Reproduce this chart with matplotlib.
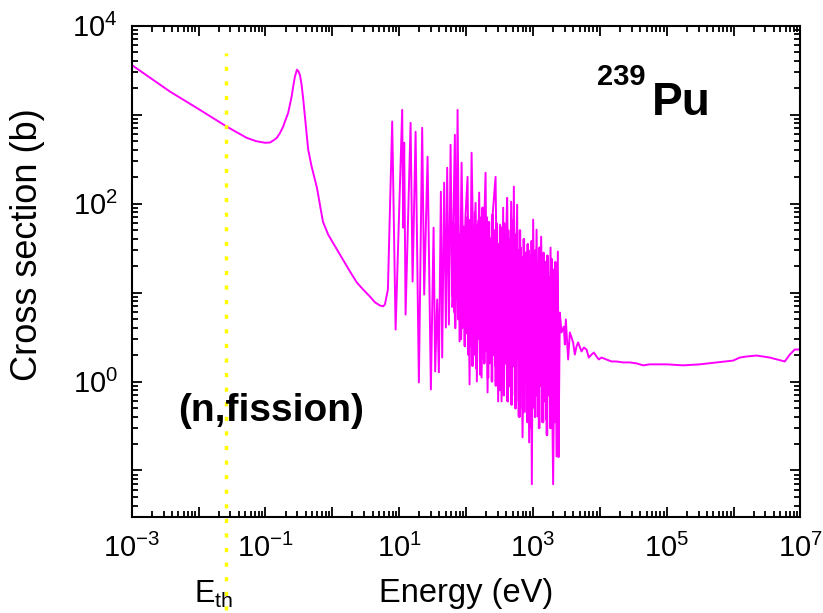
import numpy as np
import matplotlib.pyplot as plt
from matplotlib.ticker import FixedLocator, FuncFormatter, NullFormatter

plt.rcParams['font.family'] = ['Liberation Sans', 'DejaVu Sans']
plt.rcParams['mathtext.fontset'] = 'custom'
plt.rcParams['mathtext.rm'] = 'Liberation Sans'
plt.rcParams['mathtext.it'] = 'Liberation Sans'

# energia (eV) y seccion eficaz de fision (b) del Pu-239, leidas del grafico
# zona termica y primera resonancia
e_low = [1.0e-3, 3.74e-3, 9.37e-3, 0.0263, 0.0524, 0.0721, 0.0983, 0.1168, 0.1308, 0.147,
         0.1647, 0.1845, 0.1956, 0.219, 0.2324, 0.2464, 0.260, 0.2761, 0.296, 0.3093,
         0.328, 0.3476, 0.367, 0.3895, 0.436, 0.4905, 0.589, 0.724, 0.868, 1.02,
         1.44, 1.833, 2.33, 2.897, 3.65, 4.33, 5.15, 5.77, 6.11, 6.78]
s_low = [3620, 1816, 1192, 735, 549, 504, 483, 486, 512, 545,
         620, 735, 837, 1048, 1288, 1597, 2068, 2677, 3200, 3100,
         2797, 2160, 1500, 952, 403, 261, 150.8, 62.7, 44.8, 36.4,
         23.5, 17.3, 12.95, 10.8, 9.02, 7.78, 7.15, 7.02, 7.33, 10.8]

# resonancias resueltas (picos y valles)
e_res = [7.86, 8.84, 11.09, 11.48, 11.88, 12.46, 14.81, 15.86, 17.59, 19.70,
         22.07, 23.65, 26.58, 29.77, 32.68, 34.52, 36.98, 39.21, 42.02, 43.94,
         47.07, 49.90, 52.19, 55.34, 58.66, 61.97, 68.03, 71.12, 74.64, 79.95,
         85.66, 91.75, 98.3, 105.3, 112.8, 120.9, 129.5, 138.7, 145.0, 157.0,
         170.5, 182.6, 195.6, 209.6, 224.5, 234.8, 251.5, 276.1, 301.9, 323.3,
         339.3, 358.5, 367.3, 393.5, 411.5, 440.9, 472.2, 500.7, 518.2, 541.9,
         580.6, 609.3, 652.6, 699.1, 748.9, 802.4, 839.2, 877.4, 920.6, 962.9,
         1007, 1079, 1132, 1212, 1327, 1421, 1522, 1575, 1630, 1747,
         1833, 2004, 2147, 2253, 2356, 2413, 2524]
s_res = [837, 3.84, 1132, 53.6, 483, 5.66, 809, 13.3, 641, 0.977,
         711, 9.50, 336, 0.815, 53.6, 1.30, 8.35, 1.27, 136, 1.86,
         172, 4.05, 253, 4.37, 458, 9.50, 593, 8.35, 1132, 2.82,
         288, 11.4, 75.1, 200, 0.928, 373, 19.1, 102, 1.0, 133,
         1.11, 28.9, 222, 0.755, 41.4, 3.84, 81.1, 200, 0.598, 58.0,
         0.598, 89.9, 1.27, 32.8, 116, 0.881, 105, 3.84, 155, 2.48,
         97.2, 0.406, 32.0, 0.236, 24.7, 0.450, 8.35, 0.207, 26.7, 0.070,
         66.0, 1.06, 50.9, 0.755, 42.5, 0.598, 12.9, 0.375, 21.7, 0.755,
         32.0, 0.070, 21.7, 0.144, 28.9, 0.141, 5.96]

# resonancias densas (relleno del bosque), dos grupos
e_fill = [61, 63, 65, 67.5, 70, 72, 74.5, 77, 80, 82.5,
          85, 88, 91, 94, 97, 100, 104, 107, 111, 115,
          119, 123, 127, 131, 136, 140, 145, 150, 155, 160,
          166, 171, 177, 183, 190, 196, 203, 210, 217, 224,
          232, 240, 248, 257, 265, 275, 284, 294, 304, 314,
          325, 336, 348, 360, 372, 385, 398, 412, 426, 441,
          456, 472, 488, 505, 522, 540, 558, 578, 597, 618,
          639, 661, 684, 707, 732, 757, 783, 810, 838, 867,
          896, 927, 959, 992, 1026, 1061, 1098, 1136, 1175, 1215,
          1257, 1300, 1345, 1391, 1439, 1488, 1540, 1593, 1647, 1704,
          1763, 1823, 1886, 1951, 2018, 2087, 2159, 2233, 2310, 2390]
s_fill = [35, 9, 60, 6, 40, 12, 28, 5, 45, 8,
          30, 4, 55, 10, 38, 3.5, 70, 7, 45, 2.5,
          60, 6, 35, 2, 80, 5, 40, 3, 65, 4.5,
          50, 1.8, 90, 6, 45, 2.2, 70, 3.5, 55, 1.6,
          40, 5, 75, 2, 50, 1.5, 60, 3, 35, 1.2,
          55, 4, 45, 1.3, 60, 2.5, 30, 0.9, 50, 3,
          40, 1.1, 65, 2, 35, 0.7, 45, 2.5, 30, 0.6,
          50, 1.8, 25, 0.5, 40, 1.5, 28, 0.45, 35, 1.2,
          22, 0.35, 38, 1.5, 25, 0.5, 30, 0.9, 20, 0.4,
          32, 1.2, 18, 0.35, 28, 0.8, 22, 0.45, 26, 1.0,
          15, 0.3, 24, 0.7, 18, 0.4, 22, 0.9, 15, 0.5]

e_fill2 = [62, 66, 69, 73, 76, 79, 84, 87, 90, 93,
           96, 99, 102, 106, 109, 113, 117, 121, 125, 129,
           133, 138, 143, 147, 152, 158, 163, 169, 174, 180,
           187, 193, 200, 206, 213, 220, 228, 236, 244, 252,
           261, 270, 279, 289, 299, 309, 320, 330, 342, 354,
           366, 378, 391, 405, 419, 433, 448, 464, 480, 496,
           513, 531, 549, 568, 587, 607, 628, 650, 672, 695,
           719, 744, 770, 796, 824, 852, 881, 911, 943, 975,
           1009, 1043, 1079, 1117, 1155, 1195, 1236, 1278, 1322, 1368,
           1415, 1463, 1514, 1566, 1620, 1675, 1733, 1793, 1854, 1918,
           1984, 2052, 2123, 2196, 2271, 2350, 2430]
s_fill2 = [7, 25, 4, 50, 9, 30, 3, 42, 6, 20,
           2.5, 55, 5, 28, 2, 65, 4, 38, 1.5, 48,
           3, 30, 1.4, 58, 4, 25, 1.2, 70, 2.5, 35,
           1.6, 50, 3, 28, 1.1, 62, 2.2, 40, 1.0, 45,
           3.5, 25, 0.9, 55, 2, 32, 0.8, 48, 2.8, 22,
           0.7, 42, 1.6, 28, 0.6, 38, 2.2, 20, 0.55, 45,
           1.5, 24, 0.5, 35, 1.8, 18, 0.4, 32, 1.2, 20,
           0.45, 28, 1.0, 16, 0.35, 30, 0.8, 18, 0.3, 25,
           1.1, 14, 0.4, 22, 0.7, 16, 0.3, 24, 0.9, 13,
           0.35, 20, 0.6, 15, 0.25, 18, 0.7, 12, 0.3, 17,
           0.5, 14, 0.35, 12, 0.6, 10, 0.4]

# zona no resuelta y rapida
e_fast = [2676, 2897, 2999, 3103, 3359, 3561, 3990, 4229, 4484, 4739,
          5326, 5766, 6327, 6848, 7515, 8135, 8926, 9663, 1.06e4, 1.26e4,
          1.50e4, 1.78e4, 2.23e4, 2.81e4, 3.54e4, 4.44e4, 5.59e4, 9.93e4, 1.76e5, 3.12e5,
          5.55e5, 9.83e5, 1.24e6, 1.56e6, 2.20e6, 3.48e6, 5.83e6, 6.92e6, 8.22e6, 1.0e7]
s_fast = [3.56, 4.15, 2.61, 4.98, 1.77, 3.56, 2.75, 2.01, 2.48, 2.75,
          2.18, 2.41, 2.29, 1.86, 2.01, 2.12, 1.91, 1.77, 1.86, 1.77,
          1.68, 1.68, 1.64, 1.64, 1.60, 1.52, 1.56, 1.56, 1.52, 1.56,
          1.64, 1.72, 1.86, 1.91, 1.96, 1.86, 1.68, 2.01, 2.29, 2.29]

E_th = 0.026  # energia termica

x_labeled = [-3, -1, 1, 3, 5, 7]
y_labeled = [0, 2, 4]

energia = np.array(e_low + e_res + e_fast)
sigma = np.array(s_low + s_res + s_fast)

fig = plt.figure(figsize=(8.23, 6.13), dpi=100)
ax = fig.add_axes([0.160, 0.1566, 0.8126, 0.8015])

ax.plot(energia, sigma, color='#ff00ff', linewidth=1.4)
ax.plot(e_fill, s_fill, color='#ff00ff', linewidth=1.7)
ax.plot(e_fill2, s_fill2, color='#ff00ff', linewidth=1.7)

# linea de energia termica (sale por debajo del eje)
ax.axvline(E_th, ymin=-0.19, ymax=0.945, color='#ffff00', linewidth=2.5,
           linestyle=(0, (1.2, 3.0)), clip_on=False)

ax.set_xscale('log')
ax.set_yscale('log')
ax.set_xlim(1e-3, 1e7)
ax.set_ylim(3e-2, 1e4)


def etiqueta(labeled):
    def fmt(v, pos):
        k = int(round(np.log10(v)))
        if k in labeled:
            return r'$\mathregular{10^{%d}}$' % k
        return ''
    return fmt


def menores(k0, k1):
    return [m * 10.0 ** k for k in range(k0, k1) for m in range(2, 10)]


ax.xaxis.set_major_locator(FixedLocator([10.0 ** k for k in range(-3, 8)]))
ax.yaxis.set_major_locator(FixedLocator([10.0 ** k for k in range(-2, 5)]))
ax.xaxis.set_minor_locator(FixedLocator(menores(-3, 7)))
ax.yaxis.set_minor_locator(FixedLocator(menores(-2, 4)))
ax.xaxis.set_major_formatter(FuncFormatter(etiqueta(x_labeled)))
ax.yaxis.set_major_formatter(FuncFormatter(etiqueta(y_labeled)))
ax.xaxis.set_minor_formatter(NullFormatter())
ax.yaxis.set_minor_formatter(NullFormatter())

ax.tick_params(which='major', direction='in', top=True, right=True,
               length=7.5, width=1.3, labelsize=21)
ax.tick_params(which='minor', direction='in', top=True, right=True,
               length=4.5, width=1.3)
ax.tick_params(axis='x', which='major', pad=12)
ax.tick_params(axis='y', which='major', pad=10)
for s in ax.spines.values():
    s.set_linewidth(1.5)

ax.set_xlabel('Energy (eV)', fontsize=23.5)
ax.set_ylabel('Cross section (b)', fontsize=26)
ax.xaxis.set_label_coords(0.5, -0.124)
ax.yaxis.set_label_coords(-0.13, 0.555)

ax.text(0.123, -0.175, r'E$_{\mathregular{th}}$', transform=ax.transAxes,
        fontsize=22, ha='center', va='baseline')
ax.text(0.778, 0.818, 'Pu', transform=ax.transAxes, fontsize=33,
        fontweight='bold', ha='left', va='baseline')
ax.text(0.696, 0.879, '239', transform=ax.transAxes, fontsize=21,
        fontweight='bold', ha='left', va='baseline')
ax.text(0.069, 0.195, '(n,fission)', transform=ax.transAxes, fontsize=28,
        fontweight='bold', ha='left', va='baseline')

fig.savefig('out.png', dpi=100)
